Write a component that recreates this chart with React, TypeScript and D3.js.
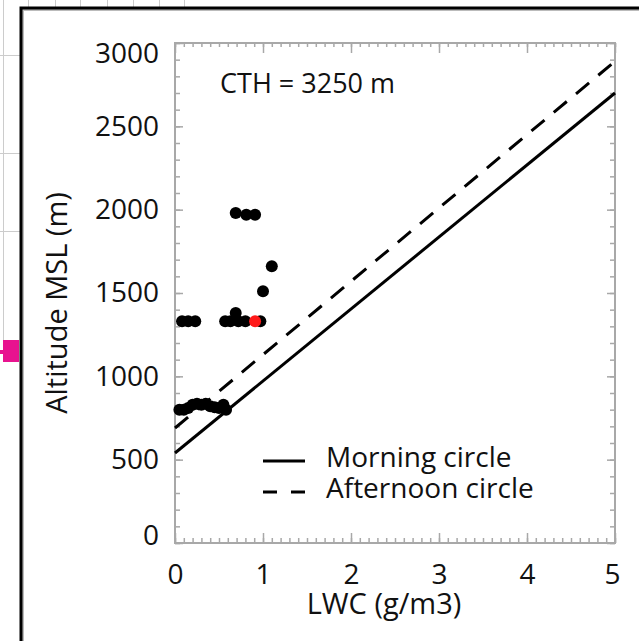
import React, { useEffect, useRef } from 'react';
import * as d3 from 'd3';

// LWC (g/m3) and altitude (m) of the measured points
const pointLwc = [
  0.05, 0.1, 0.15, 0.2, 0.25, 0.3, 0.35, 0.4, 0.45, 0.5, 0.55, 0.58,
  0.08, 0.15, 0.23, 0.57, 0.63, 0.69, 0.72, 0.8, 0.97,
  0.69, 0.81, 0.91, 1.1, 1.0,
];
const pointAlt = [
  800, 800, 810, 830, 835, 830, 835, 820, 815, 810, 830, 800,
  1330, 1330, 1330, 1330, 1330, 1380, 1330, 1330, 1330,
  1980, 1970, 1970, 1660, 1510,
];
// the highlighted (red) point
const redLwc = [0.91];
const redAlt = [1330];

// adiabatic lines, end points
const lineLwc = [0, 5];
const morningAlt = [540, 2700];
const afternoonAlt = [690, 2890];

const xTicks = [0, 1, 2, 3, 4, 5];
const yTicks = [0, 500, 1000, 1500, 2000, 2500, 3000];
const legendNames = ['Morning circle', 'Afternoon circle'];
const cthLabel = 'CTH = 3250 m';

const FONT = '"Open Sans", sans-serif';

const App = () => {
  const ref = useRef<SVGSVGElement>(null);

  useEffect(() => {
    const svg = d3.select(ref.current);
    svg.selectAll('*').remove();

    const left = 175;
    const right = 615;
    const top = 43;
    const bottom = 543;
    const axisColor = '#a8a8a8';

    // 背景的表格线
    const bg = svg.append('g').attr('stroke', '#cccccc').attr('stroke-width', 1);
    [3, 28, 55, 80, 107, 133, 159, 184].forEach((gx) => {
      bg.append('line').attr('x1', gx + 0.5).attr('x2', gx + 0.5).attr('y1', 0).attr('y2', 7);
    });
    bg.append('line').attr('x1', 3.5).attr('x2', 3.5).attr('y1', 0).attr('y2', 350);
    [55, 153, 231].forEach((gy) => {
      bg.append('line').attr('x1', 0).attr('x2', 20).attr('y1', gy + 0.5).attr('y2', gy + 0.5);
    });
    svg.append('rect').attr('x', 0).attr('y', 350).attr('width', 4).attr('height', 4).attr('fill', '#e8138f');
    svg.append('rect').attr('x', 3).attr('y', 340).attr('width', 16).attr('height', 22).attr('fill', '#e8138f');

    // outer frame
    svg.append('rect')
      .attr('x', 23).attr('y', 10).attr('width', 700).attr('height', 700)
      .attr('fill', 'none').attr('stroke', '#bbbbbb').attr('stroke-width', 2);
    svg.append('rect')
      .attr('x', 21).attr('y', 8).attr('width', 700).attr('height', 700)
      .attr('fill', 'none').attr('stroke', '#000').attr('stroke-width', 3);

    const x = d3.scaleLinear().domain([0, 5]).range([left, right]);
    const y = d3.scaleLinear().domain([0, 3000]).range([bottom, top]);

    const minorX = d3.range(0, 5.001, 0.1);
    const minorY = d3.range(0, 3001, 100);

    const styleAxis = (g: any) => {
      g.select('.domain').remove();
      g.selectAll('line').attr('stroke', axisColor).attr('stroke-width', 1.5);
      g.selectAll('text').attr('fill', '#111').style('font-family', FONT).style('font-size', '28px');
    };

    // minor ticks, all four sides
    svg.append('g').attr('transform', `translate(0,${bottom})`)
      .call(d3.axisBottom(x).tickValues(minorX).tickSize(-5).tickFormat(() => '')).call(styleAxis);
    svg.append('g').attr('transform', `translate(0,${top})`)
      .call(d3.axisTop(x).tickValues(minorX).tickSize(-4).tickFormat(() => '')).call(styleAxis);
    svg.append('g').attr('transform', `translate(${left},0)`)
      .call(d3.axisLeft(y).tickValues(minorY).tickSize(-5).tickFormat(() => '')).call(styleAxis);
    svg.append('g').attr('transform', `translate(${right},0)`)
      .call(d3.axisRight(y).tickValues(minorY).tickSize(-5).tickFormat(() => '')).call(styleAxis);

    // major ticks
    const xAxisG = svg.append('g').attr('transform', `translate(0,${bottom})`)
      .call(d3.axisBottom(x).tickValues(xTicks).tickSize(-10).tickPadding(21).tickFormat(d3.format('d')))
      .call(styleAxis);
    xAxisG.selectAll('g.tick').filter((d: any) => d === 5).select('text').attr('dx', -3);

    svg.append('g').attr('transform', `translate(0,${top})`)
      .call(d3.axisTop(x).tickValues(xTicks).tickSize(-10).tickFormat(() => '')).call(styleAxis);

    const yAxisG = svg.append('g').attr('transform', `translate(${left},0)`)
      .call(d3.axisLeft(y).tickValues(yTicks).tickSize(-8).tickPadding(16).tickFormat(d3.format('d')))
      .call(styleAxis);
    yAxisG.selectAll('g.tick').filter((d: any) => d === 3000).select('text').attr('dy', '0.68em');
    yAxisG.selectAll('g.tick').filter((d: any) => d === 0).select('text').attr('dy', '0.05em');

    svg.append('g').attr('transform', `translate(${right},0)`)
      .call(d3.axisRight(y).tickValues(yTicks).tickSize(-8).tickFormat(() => '')).call(styleAxis);

    // 坐标框
    svg.append('rect')
      .attr('x', left).attr('y', top).attr('width', right - left).attr('height', bottom - top)
      .attr('fill', 'none').attr('stroke', axisColor).attr('stroke-width', 2);

    // axis titles
    svg.append('text')
      .attr('x', 384).attr('y', 614)
      .attr('text-anchor', 'middle')
      .style('font-family', FONT).style('font-size', '29px').attr('fill', '#111')
      .text('LWC (g/m3)');
    svg.append('text')
      .attr('transform', `translate(67,${(top + bottom) / 2 + 10}) rotate(-90)`)
      .attr('text-anchor', 'middle')
      .style('font-family', FONT).style('font-size', '29px').attr('fill', '#111')
      .text('Altitude MSL (m)');

    // lines
    const line = d3.line<number>()
      .x((d) => x(d))
      .y((d, i) => y(0))
    const mkLine = (alts: number[]) =>
      d3.line<number>().x((d) => x(d)).y((d, i) => y(alts[i]))(lineLwc);
    void line;

    svg.append('path')
      .attr('d', mkLine(morningAlt))
      .attr('fill', 'none').attr('stroke', '#000').attr('stroke-width', 3);
    svg.append('path')
      .attr('d', mkLine(afternoonAlt))
      .attr('fill', 'none').attr('stroke', '#000').attr('stroke-width', 3)
      .attr('stroke-dasharray', '17,12');

    // points
    svg.append('g')
      .selectAll('circle')
      .data(pointLwc)
      .enter()
      .append('circle')
      .attr('cx', (d) => x(d))
      .attr('cy', (d, i) => y(pointAlt[i]))
      .attr('r', 6)
      .attr('fill', '#000');
    svg.append('g')
      .selectAll('circle')
      .data(redLwc)
      .enter()
      .append('circle')
      .attr('cx', (d) => x(d))
      .attr('cy', (d, i) => y(redAlt[i]))
      .attr('r', 6)
      .attr('fill', '#ff1a1a');

    // CTH
    svg.append('text')
      .attr('x', 220).attr('y', 93)
      .style('font-family', FONT).style('font-size', '27px').attr('fill', '#111')
      .text(cthLabel);

    // legend
    const legend = svg.append('g').attr('transform', 'translate(263,461)');
    legendNames.forEach((name, i) => {
      const row = legend.append('g').attr('transform', `translate(0,${i * 31})`);
      row.append('line')
        .attr('x1', 0).attr('x2', 42).attr('y1', 0).attr('y2', 0)
        .attr('stroke', '#000').attr('stroke-width', 3)
        .attr('stroke-dasharray', i === 1 ? '14,14' : null);
      row.append('text')
        .attr('x', 63).attr('y', 6)
        .style('font-family', FONT).style('font-size', '28px').attr('fill', '#111')
        .text(name);
    });
  }, []);

  return (
    <svg
      ref={ref}
      width={639}
      height={641}
      style={{ position: 'absolute', left: 0, top: 0, background: '#fff' }}
    />
  );
};

export default App;
